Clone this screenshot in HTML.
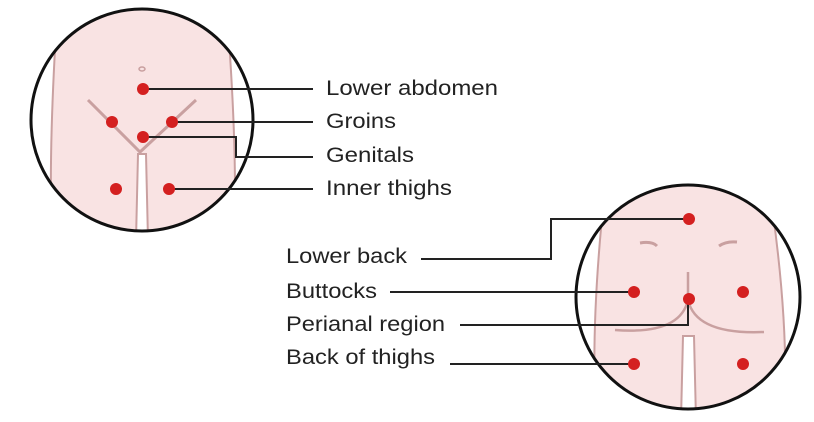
<!DOCTYPE html>
<html><head><style>body{margin:0;background:#fff}svg{display:block}</style></head><body>
<svg width="814" height="422" viewBox="0 0 814 422" xmlns="http://www.w3.org/2000/svg" font-family="Liberation Sans, sans-serif" font-size="21" fill="#222">
<defs>
<clipPath id="c1"><circle cx="142" cy="120" r="111"/></clipPath>
<clipPath id="c2"><circle cx="688" cy="297" r="112"/></clipPath>
</defs>
<g clip-path="url(#c1)">
<path d="M58 0 Q48 150 52 240 L234 240 Q238 150 226 0 Z" fill="#f9e3e3" stroke="#c9a0a0" stroke-width="2"/>
<ellipse cx="142" cy="69" rx="3" ry="2" fill="none" stroke="#c9a0a0" stroke-width="1.5"/>
<path d="M88 100 L140 152 L196 100" fill="none" stroke="#c9a0a0" stroke-width="3"/>
<path d="M138 154 L136 240 L148 240 L146 154 Z" fill="#fff" stroke="#c9a0a0" stroke-width="2"/>
</g>
<circle cx="142" cy="120" r="111" fill="none" stroke="#111" stroke-width="3"/>
<g clip-path="url(#c2)">
<path d="M606 180 Q590 320 596 420 L784 420 Q790 320 768 180 Z" fill="#f9e3e3" stroke="#c9a0a0" stroke-width="2"/>
<path d="M640 243 Q652 241 657 246" fill="none" stroke="#c9a0a0" stroke-width="3"/>
<path d="M719 246 Q726 241 737 242" fill="none" stroke="#c9a0a0" stroke-width="3"/>
<path d="M688 272 L688 300 Q680 335 615 330" fill="none" stroke="#c9a0a0" stroke-width="2.5"/>
<path d="M688 300 Q696 335 764 332" fill="none" stroke="#c9a0a0" stroke-width="2.5"/>
<path d="M683 336 L681 420 L696 420 L694 336 Z" fill="#fff" stroke="#c9a0a0" stroke-width="2"/>
</g>
<circle cx="688" cy="297" r="112" fill="none" stroke="#111" stroke-width="3"/>
<g stroke="#222" stroke-width="2" fill="none">
<path d="M143 89 H313"/><path d="M172 122 H313"/><path d="M143 137 H236 V157 H313"/><path d="M169 189 H313"/>
<path d="M689 219 H551 V259 H421"/><path d="M634 292 H390"/><path d="M688 299 V325 H460"/><path d="M634 364 H450"/>
</g>
<g fill="#d42020">
<circle cx="143" cy="89" r="6"/><circle cx="112" cy="122" r="6"/><circle cx="172" cy="122" r="6"/><circle cx="143" cy="137" r="6"/><circle cx="116" cy="189" r="6"/><circle cx="169" cy="189" r="6"/>
<circle cx="689" cy="219" r="6"/><circle cx="634" cy="292" r="6"/><circle cx="689" cy="299" r="6"/><circle cx="743" cy="292" r="6"/><circle cx="634" cy="364" r="6"/><circle cx="743" cy="364" r="6"/>
</g>
<text x="326" y="95" textLength="172" lengthAdjust="spacingAndGlyphs">Lower abdomen</text>
<text x="326" y="128" textLength="70" lengthAdjust="spacingAndGlyphs">Groins</text>
<text x="326" y="162" textLength="88" lengthAdjust="spacingAndGlyphs">Genitals</text>
<text x="326" y="195" textLength="126" lengthAdjust="spacingAndGlyphs">Inner thighs</text>
<text x="286" y="263" textLength="121" lengthAdjust="spacingAndGlyphs">Lower back</text>
<text x="286" y="298" textLength="91" lengthAdjust="spacingAndGlyphs">Buttocks</text>
<text x="286" y="331" textLength="159" lengthAdjust="spacingAndGlyphs">Perianal region</text>
<text x="286" y="364" textLength="149" lengthAdjust="spacingAndGlyphs">Back of thighs</text>
</svg>
</body></html>
